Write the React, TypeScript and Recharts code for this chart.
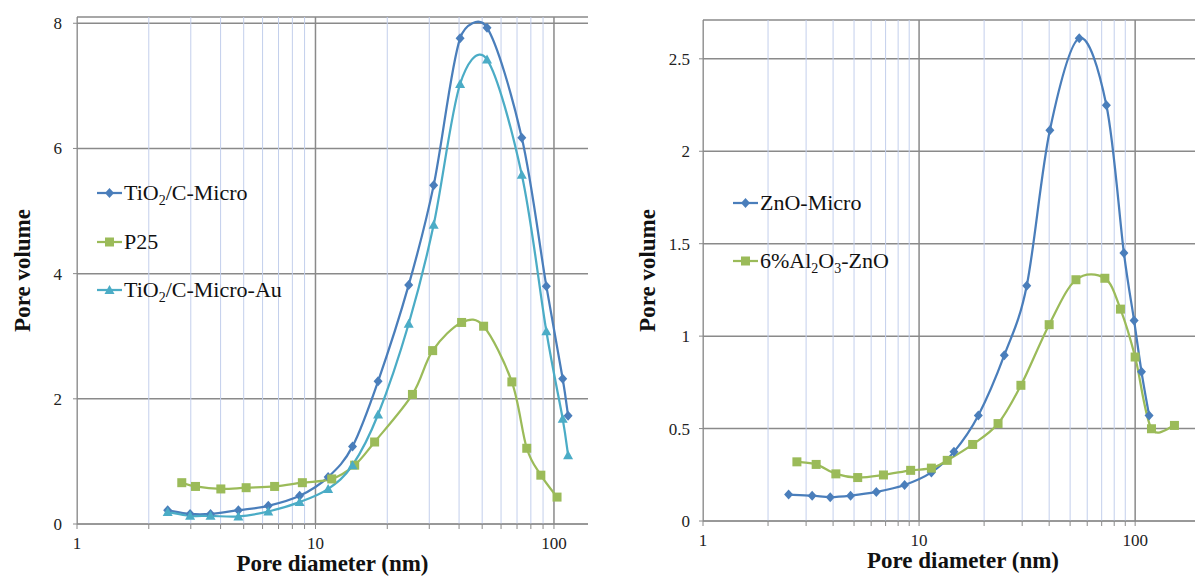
import React from "react"
import { LineChart, Line, XAxis, YAxis, CartesianGrid, ReferenceLine } from "recharts"

// gridline positions on the log axis
const majorX = [1, 10, 100]
const minorX = [2, 3, 4, 5, 6, 7, 8, 9, 20, 30, 40, 50, 60, 70, 80, 90, 200]
const allX = [...majorX, ...minorX].sort((a, b) => a - b)

// left panel: TiO2 samples
const tiMicroX = [2.4, 2.98, 3.63, 4.75, 6.34, 8.58, 11.3, 14.3, 18.3, 24.6, 31.3, 40.4, 52.4, 73.3, 92.9, 108.8, 114.6]
const tiMicroY = [0.22, 0.16, 0.16, 0.22, 0.29, 0.45, 0.75, 1.24, 2.28, 3.82, 5.41, 7.76, 7.93, 6.17, 3.8, 2.32, 1.73]
const tiAuY = [0.19, 0.13, 0.13, 0.12, 0.2, 0.35, 0.56, 0.94, 1.75, 3.2, 4.78, 7.03, 7.42, 5.58, 3.08, 1.68, 1.1]
const p25X = [2.75, 3.14, 4.01, 5.12, 6.74, 8.81, 11.7, 14.6, 17.7, 25.5, 31.0, 41.0, 50.7, 66.6, 76.9, 88.1, 103]
const p25Y = [0.66, 0.6, 0.56, 0.58, 0.6, 0.66, 0.72, 0.94, 1.31, 2.07, 2.77, 3.22, 3.16, 2.27, 1.21, 0.78, 0.43]
const leftYTicks = [0, 2, 4, 6, 8]

// right panel: ZnO samples
const znoX = [2.49, 3.2, 3.88, 4.82, 6.34, 8.57, 11.4, 14.5, 18.8, 24.8, 31.5, 40.3, 55.1, 73.6, 88.7, 98.9, 107, 116]
const znoY = [0.143, 0.137, 0.129, 0.137, 0.157, 0.195, 0.263, 0.374, 0.571, 0.897, 1.273, 2.114, 2.611, 2.249, 1.45, 1.084, 0.807, 0.571]
const alX = [2.72, 3.34, 4.12, 5.2, 6.84, 9.14, 11.4, 13.5, 17.7, 23.2, 29.6, 40.0, 53.2, 72.4, 85.5, 100, 119, 152]
const alY = [0.32, 0.306, 0.255, 0.235, 0.249, 0.274, 0.286, 0.328, 0.414, 0.527, 0.734, 1.062, 1.305, 1.313, 1.146, 0.887, 0.499, 0.517]
const rightYTicks = [0, 0.5, 1, 1.5, 2, 2.5]

const BLUE = "#4a7ebb"
const GREEN = "#9bbb59"
const AQUA = "#4bacc6"
const GRID = "#8a8a8a"
const MINOR = "#c3cfec"
const FONT = "'Liberation Serif', 'Times New Roman', serif"
const H = 577

const zip = (xs: number[], ys: number[]) => xs.map((x, i) => ({ x, y: ys[i] }))

const dist = (a: number[], b: number[]) => Math.hypot(a[0] - b[0], a[1] - b[1])

// Excel-like smoothed line: bezier with tangent arms capped at half the segment
function smoothCurve(context: any) {
  let pts: number[][] = []
  return {
    areaStart() {},
    areaEnd() {},
    lineStart() {
      pts = []
    },
    point(x: number, y: number) {
      pts.push([+x, +y])
    },
    lineEnd() {
      if (!pts.length) return
      context.moveTo(pts[0][0], pts[0][1])
      for (let i = 0; i < pts.length - 1; i++) {
        const p0 = pts[Math.max(i - 1, 0)]
        const p1 = pts[i]
        const p2 = pts[i + 1]
        const p3 = pts[Math.min(i + 2, pts.length - 1)]
        const d02 = dist(p0, p2)
        const d12 = dist(p1, p2)
        const d13 = dist(p1, p3)
        let f0 = 1 / 6
        let f1 = 1 / 6
        if (d02 / 6 >= d12 / 2 && d02 > 0) f0 = d12 / d02 / 2
        if (d13 / 6 >= d12 / 2 && d13 > 0) f1 = d12 / d13 / 2
        context.bezierCurveTo(
          p1[0] + (p2[0] - p0[0]) * f0,
          p1[1] + (p2[1] - p0[1]) * f0,
          p2[0] - (p3[0] - p1[0]) * f1,
          p2[1] - (p3[1] - p1[1]) * f1,
          p2[0],
          p2[1]
        )
      }
    },
  }
}

function Marker({ shape, cx, cy, color }: { shape: string; cx: number; cy: number; color: string }) {
  if (shape === "diamond") {
    return <path d={`M${cx},${cy - 5}L${cx + 4.5},${cy}L${cx},${cy + 5}L${cx - 4.5},${cy}Z`} fill={color} />
  }
  if (shape === "square") {
    return <rect x={cx - 4.5} y={cy - 4.5} width={9} height={9} fill={color} />
  }
  return <path d={`M${cx},${cy - 5}L${cx + 5},${cy + 4}L${cx - 5},${cy + 4}Z`} fill={color} />
}

interface SeriesDef {
  name: React.ReactNode
  data: { x: number; y: number }[]
  color: string
  shape: string
}

interface PanelProps {
  left: number
  width: number
  top: number
  bottom: number
  yAxisWidth: number
  rightMargin: number
  xMax: number
  yMax: number
  yTicks: number[]
  tickMargin: number
  titleX: number
  series: SeriesDef[]
  legendLeft: number
  legendTops: number[]
}

function Panel(p: PanelProps) {
  return (
    <div style={{ position: "absolute", left: p.left, top: 0, width: p.width, height: H }}>
      <LineChart
        width={p.width}
        height={H}
        margin={{ top: p.top, right: p.rightMargin, left: 0, bottom: 0 }}
        style={{ fontFamily: FONT }}
      >
        <CartesianGrid vertical={false} stroke={GRID} strokeWidth={1.5} />
        <XAxis
          type="number"
          dataKey="x"
          scale="log"
          domain={[1, p.xMax]}
          allowDataOverflow
          ticks={allX.filter((v) => v <= p.xMax)}
          interval={0}
          tickFormatter={(v: number) => (majorX.includes(v) ? String(v) : "")}
          height={H - p.bottom}
          stroke={GRID}
          tickSize={5}
          tickMargin={8}
          tick={{ fill: "#222", fontSize: 17, fontFamily: FONT }}
          label={{
            content: (lp: any) => (
              <text
                x={lp.viewBox.x + lp.viewBox.width / 2}
                y={lp.viewBox.y + 47}
                textAnchor="middle"
                fontSize={23}
                fontWeight="bold"
                fontFamily={FONT}
                fill="#111"
              >
                Pore diameter (nm)
              </text>
            ),
          }}
        />
        <YAxis
          type="number"
          domain={[0, p.yMax]}
          ticks={p.yTicks}
          allowDataOverflow
          width={p.yAxisWidth}
          stroke={GRID}
          tickSize={4}
          tickMargin={p.tickMargin}
          tick={{ fill: "#222", fontSize: 17, fontFamily: FONT }}
          label={{
            content: (lp: any) => {
              const cx = p.titleX
              const cy = lp.viewBox.y + lp.viewBox.height / 2
              return (
                <text
                  x={cx}
                  y={cy}
                  transform={`rotate(-90, ${cx}, ${cy})`}
                  textAnchor="middle"
                  fontSize={23}
                  fontWeight="bold"
                  fontFamily={FONT}
                  fill="#111"
                >
                  Pore volume
                </text>
              )
            },
          }}
        />
        {minorX.map((v) => (
          <ReferenceLine key={"m" + v} x={v} stroke={MINOR} strokeWidth={1} ifOverflow="hidden" />
        ))}
        {majorX.map((v) => (
          <ReferenceLine key={"M" + v} x={v} stroke={GRID} strokeWidth={1.5} ifOverflow="hidden" />
        ))}
        {p.series.map((s, i) => (
          <Line
            key={i}
            data={s.data}
            dataKey="y"
            type={smoothCurve as any}
            stroke={s.color}
            strokeWidth={2.25}
            isAnimationActive={false}
            dot={(d: any) => <Marker key={d.index} shape={s.shape} cx={d.cx} cy={d.cy} color={s.color} />}
            activeDot={false}
          />
        ))}
      </LineChart>
      {p.series.map((s, i) => (
        <div
          key={i}
          style={{
            position: "absolute",
            left: p.legendLeft,
            top: p.legendTops[i] - 14,
            height: 28,
            display: "flex",
            alignItems: "center",
            fontFamily: FONT,
            fontSize: 22,
            color: "#111",
            whiteSpace: "nowrap",
          }}
        >
          <svg width={27} height={28} style={{ marginRight: 1 }}>
            <line x1={1} y1={14} x2={26} y2={14} stroke={s.color} strokeWidth={2.25} />
            <Marker shape={s.shape} cx={13.5} cy={14} color={s.color} />
          </svg>
          <span>{s.name}</span>
        </div>
      ))}
    </div>
  )
}

const subStyle: React.CSSProperties = { fontSize: 14, verticalAlign: "-5px", lineHeight: 0 }

export default function App() {
  const leftSeries: SeriesDef[] = [
    { name: <>TiO<sub style={subStyle}>2</sub>/C-Micro</>, data: zip(tiMicroX, tiMicroY), color: BLUE, shape: "diamond" },
    { name: "P25", data: zip(p25X, p25Y), color: GREEN, shape: "square" },
    { name: <>TiO<sub style={subStyle}>2</sub>/C-Micro-Au</>, data: zip(tiMicroX, tiAuY), color: AQUA, shape: "triangle" },
  ]
  const rightSeries: SeriesDef[] = [
    { name: "ZnO-Micro", data: zip(znoX, znoY), color: BLUE, shape: "diamond" },
    {
      name: <>6%Al<sub style={subStyle}>2</sub>O<sub style={subStyle}>3</sub>-ZnO</>,
      data: zip(alX, alY),
      color: GREEN,
      shape: "square",
    },
  ]

  return (
    <div
      style={{
        position: "absolute",
        left: 0,
        top: 0,
        width: 1195,
        height: 577,
        overflow: "hidden",
        background: "#fff",
      }}
    >
      <Panel
        left={0}
        width={600}
        top={17}
        bottom={524}
        yAxisWidth={77}
        rightMargin={12}
        xMax={138.9}
        yMax={8.1}
        yTicks={leftYTicks}
        tickMargin={11}
        titleX={30}
        series={leftSeries}
        legendLeft={96}
        legendTops={[193, 242, 290]}
      />
      <Panel
        left={600}
        width={640}
        top={20}
        bottom={521}
        yAxisWidth={103}
        rightMargin={17}
        xMax={255}
        yMax={2.71}
        yTicks={rightYTicks}
        tickMargin={9}
        titleX={55}
        series={rightSeries}
        legendLeft={132}
        legendTops={[203, 261]}
      />
    </div>
  )
}
